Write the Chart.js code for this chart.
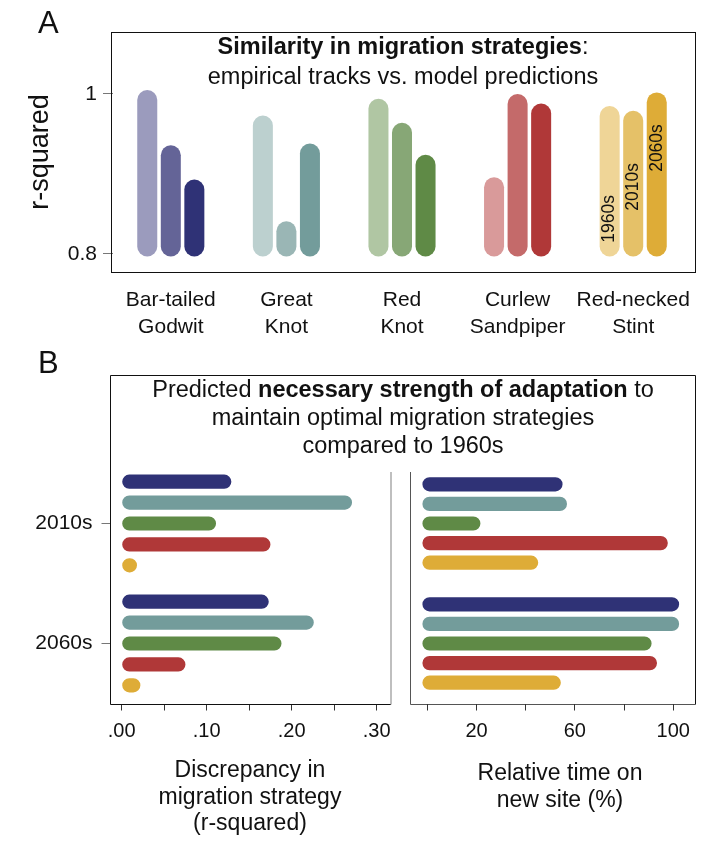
<!DOCTYPE html>
<html>
<head>
<meta charset="utf-8">
<script src="https://cdn.jsdelivr.net/npm/chart.js@4"></script>
<style>
  body { margin: 0; background: #fff; width: 710px; height: 841px; position: relative; overflow: hidden;
         font-family: 'Liberation Sans', Arial, Helvetica, sans-serif; color: #111; }
  canvas { position: absolute; left: 0; }
  .txt { position: absolute; white-space: nowrap; text-align: center; }
</style>
</head>
<body>
<canvas id="chartA" width="710" height="350" style="top:0"></canvas>
<canvas id="chartB1" width="710" height="501" style="top:340px"></canvas>
<canvas id="chartB2" width="710" height="501" style="top:340px"></canvas>

<div class="txt" style="left:38px;top:7px;font-size:31px;line-height:31px">A</div>
<div class="txt" style="left:0;width:806px;top:31px;font-size:23.5px;line-height:30px"><b>Similarity in migration strategies</b>:<br>empirical tracks vs. model predictions</div>
<div class="txt" style="left:38px;top:347px;font-size:31px;line-height:31px">B</div>
<div class="txt" style="left:0;width:806px;top:375px;font-size:23.5px;line-height:28px">Predicted <b>necessary strength of adaptation</b> to<br>maintain optimal migration strategies<br>compared to 1960s</div>
<div class="txt" style="left:0;width:500px;top:756px;font-size:23px;line-height:26.5px">Discrepancy in<br>migration strategy<br>(r-squared)</div>
<div class="txt" style="left:0;width:1120px;top:759px;font-size:23px;line-height:27px">Relative time on<br>new site (%)</div>

<script>
// panel A: r-squared between tracks and model, per decade
const species = ['Bar-tailed Godwit', 'Great Knot', 'Red Knot', 'Curlew Sandpiper', 'Red-necked Stint'];
const speciesLabels = [['Bar-tailed', 'Godwit'], ['Great', 'Knot'], ['Red', 'Knot'], ['Curlew', 'Sandpiper'], ['Red-necked', 'Stint']];
const decades = ['1960s', '2010s', '2060s'];
const rsq1960 = [1.005, 0.973, 0.994, 0.896, 0.985];
const rsq2010 = [0.936, 0.841, 0.964, 1.000, 0.979];
const rsq2060 = [0.893, 0.938, 0.924, 0.988, 1.002];
const rsqTicks = [0.8, 1];
const rsqTickLabels = ['0.8', '1'];
// where the decade names sit inside the stint bars (r-squared units)
const decadeLabelAt = [0.844, 0.884, 0.9325];

// panel B: future decades vs 1960s
const futureDecades = ['2010s', '2060s'];
const disc2010 = [0.129, 0.271, 0.111, 0.175, 0.018];
const disc2060 = [0.173, 0.226, 0.188, 0.075, 0.022];
const time2010 = [55.0, 56.8, 21.6, 97.8, 45.1];
const time2060 = [102.4, 102.4, 91.2, 93.4, 54.3];
const discTicks = [0, 0.05, 0.10, 0.15, 0.20, 0.25, 0.30];
const discTickLabels = ['.00', '', '.10', '', '.20', '', '.30'];
const timeTicks = [0, 20, 40, 60, 80, 100];
const timeTickLabels = ['', '20', '', '60', '', '100'];

const shades = [
  ['#9B9BBD', '#646497', '#2F3276'],
  ['#BCD0CF', '#9AB6B5', '#739C9B'],
  ['#B0C6A3', '#87A776', '#5F8A46'],
  ['#D99A9A', '#C46A6A', '#B03838'],
  ['#EFD597', '#E5C168', '#DEAC37']
];
const dark = shades.map(s => s[2]);

const FONT = "'Liberation Sans', Arial, Helvetica, sans-serif";
const TXT = '#111';

Chart.defaults.font.family = FONT;
Chart.defaults.color = TXT;

const frameA = {
  id: 'frameA',
  afterDraw(chart) {
    const {ctx, chartArea} = chart;
    ctx.save();
    ctx.strokeStyle = '#111';
    ctx.lineWidth = 1;
    ctx.strokeRect(111.5, chartArea.top + 0.5, 695 - 111, chartArea.bottom - chartArea.top);
    ctx.restore();
  }
};

const decadeText = {
  id: 'decadeText',
  afterDatasetsDraw(chart) {
    const {ctx} = chart;
    const y = chart.scales.y;
    ctx.save();
    ctx.font = '17.5px ' + FONT;
    ctx.fillStyle = TXT;
    ctx.textAlign = 'center';
    ctx.textBaseline = 'middle';
    decades.forEach((d, i) => {
      const bar = chart.getDatasetMeta(i).data[4];
      ctx.save();
      ctx.translate(bar.x, y.getPixelForValue(decadeLabelAt[i]));
      ctx.rotate(-Math.PI / 2);
      ctx.fillText(d, 0, 0);
      ctx.restore();
    });
    ctx.restore();
  }
};

const rsqSeries = [rsq1960, rsq2010, rsq2060];

new Chart(document.getElementById('chartA'), {
  type: 'bar',
  data: {
    labels: speciesLabels,
    datasets: decades.map((d, i) => ({
      label: d,
      data: rsqSeries[i],
      base: 0.797,
      backgroundColor: shades.map(s => s[i]),
      borderRadius: 10,
      borderSkipped: false,
      categoryPercentage: 0.611,
      barPercentage: 0.85
    }))
  },
  options: {
    responsive: false,
    animation: false,
    devicePixelRatio: 1,
    layout: { padding: { top: 32, right: 19, left: 0, bottom: 0 } },
    plugins: { legend: { display: false }, tooltip: { enabled: false } },
    scales: {
      x: {
        grid: { display: false },
        border: { display: false },
        ticks: { font: { size: 21, lineHeight: 1.27 }, color: TXT, padding: 7, maxRotation: 0, autoSkip: false },
        afterFit(s) { s.height = 78; }
      },
      y: {
        min: 0.7775,
        max: 1.0775,
        grid: { drawOnChartArea: false, tickLength: 10, color: '#777' },
        border: { display: false },
        ticks: { font: { size: 21 }, color: TXT, padding: 6, callback: (v, i) => rsqTickLabels[i] },
        afterBuildTicks(s) { s.ticks = rsqTicks.map(v => ({ value: v })); },
        title: { display: true, text: 'r-squared', font: { size: 27 }, color: TXT, padding: { top: 24.5, bottom: 0 } },
        afterFit(s) { s.width = 113; }
      }
    }
  },
  plugins: [frameA, decadeText]
});

const frameB = {
  id: 'frameB',
  afterDraw(chart) {
    const {ctx, chartArea} = chart;
    const top = 35.5, bottom = Math.round(chartArea.bottom) + 0.5;
    ctx.save();
    ctx.lineWidth = 1;
    // outer box
    ctx.strokeStyle = '#111';
    ctx.beginPath();
    ctx.moveTo(110.5, bottom); ctx.lineTo(110.5, top); ctx.lineTo(695.5, top); ctx.lineTo(695.5, bottom);
    ctx.moveTo(110.5, bottom); ctx.lineTo(391, bottom);
    ctx.stroke();
    // inner separators
    ctx.strokeStyle = '#aaa';
    ctx.lineWidth = 1.5;
    ctx.beginPath();
    ctx.moveTo(391, 132); ctx.lineTo(391, bottom);
    ctx.stroke();
    ctx.strokeStyle = '#555';
    ctx.lineWidth = 1;
    ctx.beginPath();
    ctx.moveTo(410.5, 132); ctx.lineTo(410.5, bottom); ctx.lineTo(695.5, bottom);
    ctx.stroke();
    ctx.restore();
  }
};

const discSeries = species.map((s, i) => [disc2010[i], disc2060[i]]);
const timeSeries = species.map((s, i) => [time2010[i], time2060[i]]);

new Chart(document.getElementById('chartB1'), {
  type: 'bar',
  data: {
    labels: futureDecades,
    datasets: species.map((s, i) => ({
      label: s,
      data: discSeries[i],
      base: 0,
      backgroundColor: dark[i],
      borderRadius: 7.2,
      borderSkipped: false,
      categoryPercentage: 0.871,
      barPercentage: 0.68
    }))
  },
  options: {
    indexAxis: 'y',
    responsive: false,
    animation: false,
    devicePixelRatio: 1,
    layout: { padding: { top: 123.5, right: 319, left: 0, bottom: 0 } },
    plugins: { legend: { display: false }, tooltip: { enabled: false } },
    scales: {
      y: {
        grid: { drawOnChartArea: false, offset: false, tickLength: 9, color: '#777' },
        border: { display: false },
        ticks: { font: { size: 21 }, color: TXT, padding: 9 },
        afterFit(s) { s.width = 110.5; }
      },
      x: {
        min: -0.01318,
        max: 0.3168,
        grid: { drawOnChartArea: false, tickLength: 7, color: '#333' },
        border: { display: false },
        ticks: { font: { size: 20 }, color: TXT, padding: 8.5, autoSkip: false, maxRotation: 0,
                 callback: (v, i) => discTickLabels[i] },
        afterBuildTicks(s) { s.ticks = discTicks.map(v => ({ value: v })); },
        afterFit(s) { s.height = 137.5; }
      }
    }
  },
  plugins: [frameB]
});

new Chart(document.getElementById('chartB2'), {
  type: 'bar',
  data: {
    labels: futureDecades,
    datasets: species.map((s, i) => ({
      label: s,
      data: timeSeries[i],
      base: -2,
      backgroundColor: dark[i],
      borderRadius: 7.2,
      borderSkipped: false,
      categoryPercentage: 0.817,
      barPercentage: 0.726
    }))
  },
  options: {
    indexAxis: 'y',
    responsive: false,
    animation: false,
    devicePixelRatio: 1,
    layout: { padding: { top: 123.5, right: 14.5, left: 0, bottom: 0 } },
    plugins: { legend: { display: false }, tooltip: { enabled: false } },
    scales: {
      y: {
        grid: { display: false },
        border: { display: false },
        ticks: { display: false },
        afterFit(s) { s.width = 410.5; }
      },
      x: {
        min: -6.84,
        max: 109.05,
        grid: { drawOnChartArea: false, tickLength: 7, color: '#333' },
        border: { display: false },
        ticks: { font: { size: 20 }, color: TXT, padding: 8.5, autoSkip: false, maxRotation: 0,
                 callback: (v, i) => timeTickLabels[i] },
        afterBuildTicks(s) { s.ticks = timeTicks.map(v => ({ value: v })); },
        afterFit(s) { s.height = 137.5; }
      }
    }
  }
});
</script>
</body>
</html>
